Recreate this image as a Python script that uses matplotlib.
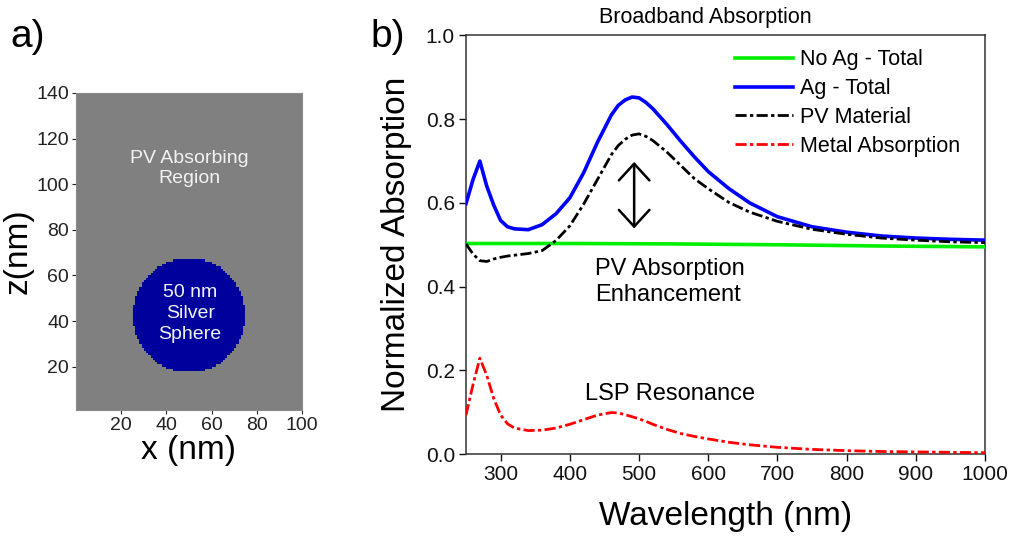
import numpy as np
import matplotlib
matplotlib.use("Agg")
import matplotlib.pyplot as plt
from matplotlib.colors import ListedColormap

plt.rcParams["font.family"] = ["Liberation Sans", "DejaVu Sans"]

# ---- panel a: simulation cell (nm) ----
domain_x = 100
domain_z = 140
sphere_center = (50.0, 42.5)
sphere_radius = 25.0
xa_ticks = [20, 40, 60, 80, 100]
za_ticks = [20, 40, 60, 80, 100, 120, 140]

# ---- panel b: absorption spectra ----
wavelength = [250, 260, 270, 280, 290, 300, 310, 320, 340, 360, 380, 400,
              420, 440, 460, 470, 480, 490, 500, 510, 520, 540, 560, 580,
              600, 630, 660, 700, 750, 800, 850, 900, 950, 1000]
ag_total = [0.598, 0.655, 0.700, 0.640, 0.595, 0.558, 0.543, 0.538, 0.536,
            0.548, 0.574, 0.612, 0.672, 0.745, 0.810, 0.833, 0.846, 0.853,
            0.851, 0.840, 0.825, 0.788, 0.748, 0.710, 0.675, 0.634, 0.600,
            0.567, 0.543, 0.530, 0.521, 0.516, 0.513, 0.511]
pv_material = [0.502, 0.478, 0.462, 0.460, 0.466, 0.470, 0.473, 0.475, 0.479,
               0.486, 0.510, 0.545, 0.597, 0.656, 0.715, 0.737, 0.752, 0.762,
               0.765, 0.759, 0.749, 0.722, 0.690, 0.658, 0.634, 0.601, 0.578,
               0.556, 0.537, 0.525, 0.516, 0.511, 0.507, 0.505]
metal_absorption = [0.093, 0.165, 0.229, 0.188, 0.133, 0.093, 0.072, 0.062,
                    0.056, 0.057, 0.062, 0.071, 0.082, 0.093, 0.099, 0.098,
                    0.094, 0.089, 0.084, 0.078, 0.071, 0.059, 0.049, 0.042,
                    0.036, 0.028, 0.022, 0.016, 0.011, 0.008, 0.006, 0.005,
                    0.004, 0.003]
wavelength_noag = [250, 400, 550, 700, 850, 1000]
noag_total = [0.503, 0.503, 0.502, 0.500, 0.497, 0.495]
xb_ticks = [300, 400, 500, 600, 700, 800, 900, 1000]
yb_ticks = [0.0, 0.2, 0.4, 0.6, 0.8, 1.0]

W, H = 1014, 542
fig = plt.figure(figsize=(W / 100, H / 100), dpi=100)


def box(l, t, r, b):
    return [l / W, 1 - b / H, (r - l) / W, (b - t) / H]


# ================= panel a =================
axa = fig.add_axes(box(76, 93, 302, 410))
xe = np.arange(0, domain_x + 1)
ze = np.arange(0, domain_z + 1)
xc = 0.5 * (xe[:-1] + xe[1:])
zc = 0.5 * (ze[:-1] + ze[1:])
XX, ZZ = np.meshgrid(xc, zc)
inside = ((XX - sphere_center[0]) ** 2 + (ZZ - sphere_center[1]) ** 2
          <= sphere_radius ** 2).astype(float)
axa.pcolormesh(xe, ze, inside, cmap=ListedColormap(["#808080", "#00009c"]),
               vmin=0, vmax=1, shading="flat")
axa.set_xlim(0, domain_x)
axa.set_ylim(1, domain_z)
axa.set_xticks(xa_ticks)
axa.set_yticks(za_ticks)
axa.tick_params(direction="out", length=3, width=0.8, pad=2,
                labelsize=14, colors="#222222")
for s in axa.spines.values():
    s.set_color("#8a8a8a")
    s.set_linewidth(0.8)
axa.set_xlabel("x (nm)", fontsize=24, labelpad=1)
axa.set_ylabel("z(nm)", fontsize=24, labelpad=2)
axa.text(50, 107, "PV Absorbing\nRegion", color="#f2f2f2", fontsize=14,
         ha="center", va="center", linespacing=1.25)
axa.text(50.5, 43.3, "50 nm\nSilver\nSphere", color="#f2f2f2", fontsize=14,
         ha="center", va="center", linespacing=1.3)

# ================= panel b =================
axb = fig.add_axes(box(466, 35.5, 985, 454))
axb.plot(wavelength_noag, noag_total, color="#00ee00", lw=2.6,
         label="No Ag - Total", zorder=3)
axb.plot(wavelength, ag_total, color="#0000ff", lw=2.6,
         label="Ag - Total", zorder=4)
axb.plot(wavelength, pv_material, color="black", lw=2.0,
         ls=(0, (4, 1.2, 1.2, 1.2)), label="PV Material", zorder=5)
axb.plot(wavelength, metal_absorption, color="#ff0000", lw=2.0,
         ls=(0, (4, 1.2, 1.2, 1.2)), label="Metal Absorption", zorder=5)

axb.set_xlim(250, 1000)
axb.set_ylim(0, 1.0)
axb.set_xticks(xb_ticks)
axb.set_yticks(yb_ticks)
axb.set_yticklabels([f"{v:.1f}" for v in yb_ticks])
axb.tick_params(direction="out", length=5, width=1, pad=3,
                labelsize=15, colors="#111111")
for s in axb.spines.values():
    s.set_color("#333333")
    s.set_linewidth(1.1)
axb.set_xlabel("Wavelength (nm)", fontsize=24, labelpad=12)
axb.set_ylabel("Normalized Absorption", fontsize=24, labelpad=10)

leg = axb.legend(loc="upper left", bbox_to_anchor=((735 - 466) / 519, 0.967),
                 frameon=False, fontsize=15.5, handlelength=2.7,
                 handletextpad=0.3, labelspacing=0.36, borderpad=0,
                 borderaxespad=0)

axb.annotate("", xy=(493, 0.539), xytext=(493, 0.698),
             arrowprops=dict(arrowstyle="<->,head_length=1.2,head_width=1.1",
                             lw=1.8, color="black", shrinkA=0, shrinkB=0))
axb.text(436, 0.411, "PV Absorption\nEnhancement", fontsize=17,
         ha="left", va="center", linespacing=1.2)
axb.text(545, 0.129, "LSP Resonance", fontsize=17, ha="center",
         va="baseline")

fig.text(705 / W, 1 - 18 / H, "Broadband Absorption", fontsize=15.5,
         ha="center", va="center")
fig.text(10 / W, 1 - 37 / H, "a)", fontsize=28, ha="left", va="center")
fig.text(370 / W, 1 - 37 / H, "b)", fontsize=28, ha="left", va="center")

fig.savefig("out.png", dpi=100)
